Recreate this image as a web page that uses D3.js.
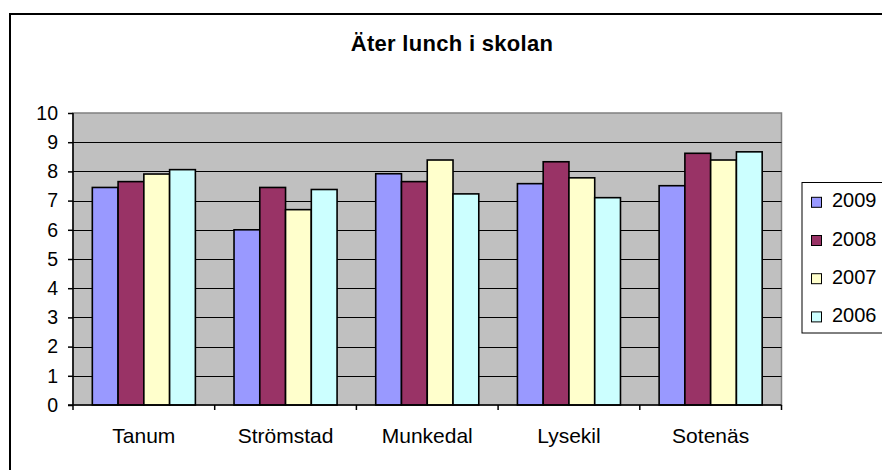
<!DOCTYPE html>
<html>
<head>
<meta charset="utf-8">
<script src="https://cdn.jsdelivr.net/npm/d3@7"></script>
<style>
  html, body { margin: 0; padding: 0; background: #fff; }
  svg { display: block; font-family: "Liberation Sans", Arial, sans-serif; }
</style>
</head>
<body>
<svg id="chart" width="882" height="470"></svg>
<script>
const title = "Äter lunch i skolan";
const categories = ["Tanum", "Strömstad", "Munkedal", "Lysekil", "Sotenäs"];
const seriesNames = ["2009", "2008", "2007", "2006"];
const values2009 = [7.45, 6.0, 7.92, 7.58, 7.51];
const values2008 = [7.65, 7.45, 7.65, 8.33, 8.62];
const values2007 = [7.91, 6.69, 8.39, 7.78, 8.39];
const values2006 = [8.06, 7.38, 7.23, 7.10, 8.67];
const yTicks = [0, 1, 2, 3, 4, 5, 6, 7, 8, 9, 10];
const colors = ["#9999ff", "#993366", "#ffffcc", "#ccffff"];

const seriesValues = [values2009, values2008, values2007, values2006];

const svg = d3.select("#chart");

// outer chart frame (extends past right/bottom edge)
svg.append("rect")
  .attr("x", 10).attr("y", 14)
  .attr("width", 900).attr("height", 480)
  .attr("fill", "#fff").attr("stroke", "#000").attr("stroke-width", 2);

const plot = { left: 73, top: 113, right: 781.5, bottom: 405 };

const y = d3.scaleLinear().domain([0, 10]).range([plot.bottom, plot.top]);
const x0 = d3.scaleBand().domain(categories).range([plot.left, plot.right]).padding(0);
const cw = x0.bandwidth();
const gap = cw * 1.5 / 5.5;
const x1 = d3.scaleBand().domain(seriesNames).range([gap / 2, cw - gap / 2]).padding(0);

// plot area background
svg.append("rect")
  .attr("x", plot.left).attr("y", plot.top)
  .attr("width", plot.right - plot.left).attr("height", plot.bottom - plot.top)
  .attr("fill", "#c0c0c0").attr("stroke", "#808080").attr("stroke-width", 1.5);

// gridlines
svg.append("g").selectAll("line")
  .data(yTicks.filter(t => t > 0 && t < 10))
  .join("line")
  .attr("x1", plot.left).attr("x2", plot.right)
  .attr("y1", d => Math.round(y(d)) + 0.5).attr("y2", d => Math.round(y(d)) + 0.5)
  .attr("stroke", "#000").attr("stroke-width", 1);

// bars
const groups = svg.append("g").selectAll("g")
  .data(categories)
  .join("g")
  .attr("transform", d => `translate(${x0(d)},0)`);

groups.selectAll("rect")
  .data((c, i) => seriesNames.map((s, j) => ({ s, j, v: seriesValues[j][i] })))
  .join("rect")
  .attr("x", d => x1(d.s))
  .attr("y", d => y(d.v))
  .attr("width", x1.bandwidth())
  .attr("height", d => plot.bottom - y(d.v))
  .attr("fill", d => colors[d.j])
  .attr("stroke", "#000").attr("stroke-width", 1.6);

// y axis
const yAxis = d3.axisLeft(y).tickValues(yTicks).tickSize(5).tickPadding(10);
const gy = svg.append("g").attr("transform", `translate(${plot.left},0)`).call(yAxis);
gy.select(".domain").attr("stroke", "#000").attr("stroke-width", 1.5).attr("d", `M0,${plot.top}V${plot.bottom}`);
gy.selectAll(".tick line").attr("stroke", "#000").attr("stroke-width", 1.5);
gy.selectAll(".tick text").attr("fill", "#000")
  .style("font-size", "19.5px").style("font-family", "Liberation Sans, Arial, sans-serif");

// x axis
const xAxis = d3.axisBottom(x0).tickSize(0).tickPadding(0).tickFormat(() => "");
const gx = svg.append("g").attr("transform", `translate(0,${plot.bottom})`).call(xAxis);
gx.select(".domain").attr("stroke", "#000").attr("stroke-width", 1.5)
  .attr("d", `M${plot.left - 5},0H${plot.right}`);
gx.selectAll(".tick").remove();

// category boundary ticks
const bounds = categories.map(c => x0(c)).concat([plot.right]);
gx.append("g").selectAll("line")
  .data(bounds)
  .join("line")
  .attr("x1", d => d).attr("x2", d => d)
  .attr("y1", 0).attr("y2", 5)
  .attr("stroke", "#000").attr("stroke-width", 1.5);

// category labels
svg.append("g").selectAll("text")
  .data(categories)
  .join("text")
  .attr("x", d => x0(d) + cw / 2)
  .attr("y", 443)
  .attr("text-anchor", "middle")
  .style("font-size", "21px")
  .attr("fill", "#000")
  .text(d => d);

// title
svg.append("text")
  .attr("x", 452).attr("y", 51)
  .attr("text-anchor", "middle")
  .style("font-size", "22px").style("font-weight", "bold")
  .style("letter-spacing", "0.3px")
  .attr("fill", "#000")
  .text(title);

// legend
const lg = svg.append("g");
lg.append("rect")
  .attr("x", 802).attr("y", 182.5)
  .attr("width", 120).attr("height", 150.5)
  .attr("fill", "#fff").attr("stroke", "#000").attr("stroke-width", 1);

const items = lg.selectAll("g.item")
  .data(seriesNames)
  .join("g")
  .attr("class", "item")
  .attr("transform", (d, i) => `translate(0,${207.3 + i * 38.2})`);

items.append("rect")
  .attr("x", 811.5).attr("y", -10)
  .attr("width", 10).attr("height", 10)
  .attr("fill", (d, i) => colors[i])
  .attr("stroke", "#000").attr("stroke-width", 1);

items.append("text")
  .attr("x", 832).attr("y", 0)
  .style("font-size", "20px")
  .attr("fill", "#000")
  .text(d => d);
</script>
</body>
</html>
